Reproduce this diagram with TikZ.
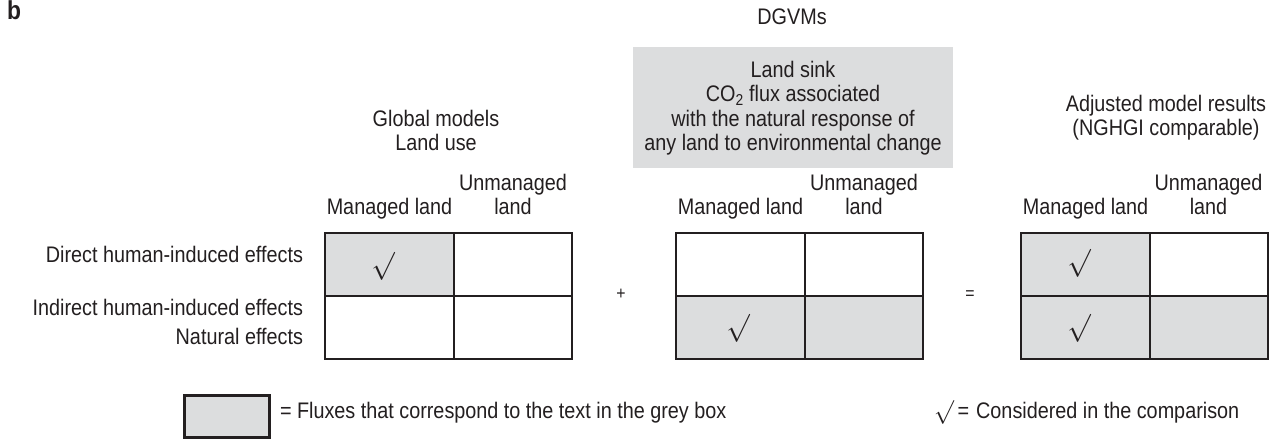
\documentclass[tikz,border=0pt]{standalone}
\usepackage{fontspec}
\setmainfont{Liberation Sans}[FakeStretch=0.88]
\definecolor{lgrey}{RGB}{220,221,222}
\definecolor{ink}{RGB}{35,31,32}
\newcommand{\chkmark}{\scalebox{1.35}{$\surd$}}
\begin{document}
\begin{tikzpicture}[x=1pt,y=-1pt,
  every node/.style={font=\fontsize{22.5}{27}\selectfont, text=ink, inner sep=0pt, outer sep=0pt},
  lbl/.style={anchor=mid},
  rowlbl/.style={anchor=mid east},
  cellL/.style={draw=ink, line width=2pt, minimum width=129pt, minimum height=63pt, anchor=north west},
  cellR/.style={draw=ink, line width=2pt, minimum width=118pt, minimum height=63pt, anchor=north west},
  shaded/.style={fill=lgrey},
  chk/.style={anchor=center},
  opsym/.style={anchor=mid, font=\fontsize{18}{22}\selectfont}]
\fill[white] (0,0) rectangle (1272,439);
\useasboundingbox (0,0) rectangle (1272,439);

% panel letter
\node[anchor=mid west, font=\fontsize{26}{30}\selectfont\bfseries] (b) at (7,17) {b};

% top titles
\node[lbl] (dgvm) at (792,22) {DGVMs};
\node[fill=lgrey, minimum width=320pt, minimum height=121pt, anchor=north west] (gbox) at (633,47) {};
\node[lbl] (gb1) at (793,75) {Land sink};
\node[lbl] (gb2) at (793,99) {CO\textsubscript{2} flux associated};
\node[lbl] (gb3) at (793,124) {with the natural response of};
\node[lbl] (gb4) at (793,148) {any land to environmental change};

\node[lbl] (gm1) at (436,124) {Global models};
\node[lbl] (gm2) at (436,148) {Land use};

\node[lbl] (ad1) at (1166,109) {Adjusted model results};
\node[lbl] (ad2) at (1166,133) {(NGHGI comparable)};

% column headers
\node[lbl] (h1m) at (389.5,212) {Managed land};
\node[lbl] (h1u) at (513,188) {Unmanaged};
\node[lbl] (h1l) at (513,212) {land};
\node[lbl] (h2m) at (740.5,212) {Managed land};
\node[lbl] (h2u) at (864,188) {Unmanaged};
\node[lbl] (h2l) at (864,212) {land};
\node[lbl] (h3m) at (1085.5,212) {Managed land};
\node[lbl] (h3u) at (1208.5,188) {Unmanaged};
\node[lbl] (h3l) at (1208.5,212) {land};

% row labels
\node[rowlbl] (r1) at (303,260) {Direct human-induced effects};
\node[rowlbl] (r2) at (303,313) {Indirect human-induced effects};
\node[rowlbl] (r3) at (303,342) {Natural effects};

% grid 1
\node[cellL, shaded] (a11) at (325,233) {};
\node[cellR] (a12) at (454,233) {};
\node[cellL] (a21) at (325,296) {};
\node[cellR] (a22) at (454,296) {};
\node[chk] (ca) at (383,266) {\chkmark};

\node[opsym] (plus) at (621,297) {+};

% grid 2
\node[cellL] (b11) at (676,233) {};
\node[cellR] (b12) at (805,233) {};
\node[cellL, shaded] (b21) at (676,296) {};
\node[cellR, shaded] (b22) at (805,296) {};
\node[chk] (cb) at (738,328) {\chkmark};

\node[opsym] (eq) at (970,297) {=};

% grid 3
\node[cellL, shaded] (c11) at (1021,233) {};
\node[cellR] (c12) at (1150,233) {};
\node[cellL, shaded] (c21) at (1021,296) {};
\node[cellR, shaded] (c22) at (1150,296) {};
\node[chk] (cc1) at (1079,263) {\chkmark};
\node[chk] (cc2) at (1079,328) {\chkmark};

% legend
\node[draw=ink, line width=3pt, fill=lgrey, minimum width=85pt, minimum height=42pt, anchor=north west] (lbox) at (184,395) {};
\node[anchor=mid west] (ltext) at (280,416) {= Fluxes that correspond to the text in the grey box};
\node[anchor=mid west] (lchk) at (934,416) {\scalebox{1.15}{$\surd$}\,=\hspace{7pt}Considered in the comparison};
\end{tikzpicture}
\end{document}
